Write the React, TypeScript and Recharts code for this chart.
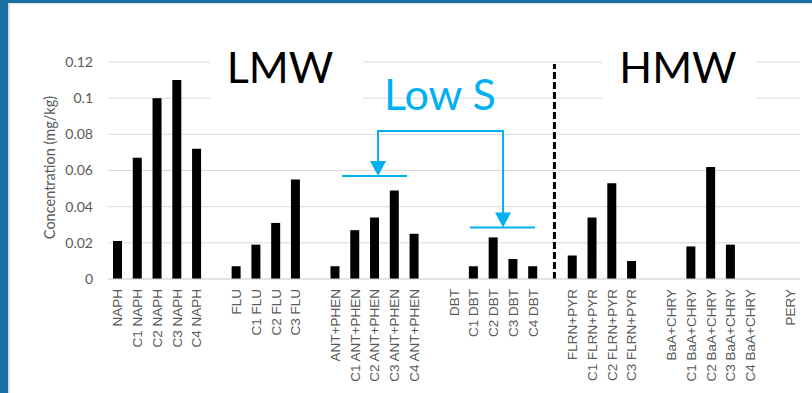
import { BarChart, Bar, XAxis, YAxis, CartesianGrid, ReferenceLine, ReferenceArea, ReferenceDot } from "recharts";

// categories on the x axis; "" marks the spacer slot between compound groups
const CATEGORIES = [
  "NAPH", "C1 NAPH", "C2 NAPH", "C3 NAPH", "C4 NAPH", "",
  "FLU", "C1 FLU", "C2 FLU", "C3 FLU", "",
  "ANT+PHEN", "C1 ANT+PHEN", "C2 ANT+PHEN", "C3 ANT+PHEN", "C4 ANT+PHEN", "",
  "DBT", "C1 DBT", "C2 DBT", "C3 DBT", "C4 DBT", "",
  "FLRN+PYR", "C1 FLRN+PYR", "C2 FLRN+PYR", "C3 FLRN+PYR", "",
  "BaA+CHRY", "C1 BaA+CHRY", "C2 BaA+CHRY", "C3 BaA+CHRY", "C4 BaA+CHRY", "",
  "PERY",
];

// mg/kg, null for spacer slots
const CONCENTRATION = [
  0.021, 0.067, 0.1, 0.11, 0.072, null,
  0.007, 0.019, 0.031, 0.055, null,
  0.007, 0.027, 0.034, 0.049, 0.025, null,
  0, 0.007, 0.023, 0.011, 0.007, null,
  0.013, 0.034, 0.053, 0.01, null,
  0, 0.018, 0.062, 0.019, 0, null,
  0,
];

const Y_TICKS = [0, 0.02, 0.04, 0.06, 0.08, 0.1, 0.12];

const data = CATEGORIES.map((name, slot) => ({ slot, name, value: CONCENTRATION[slot] }));
const SLOTS = data.map((d) => d.slot);

// annotation anchors in slot units (slot i is centred on i)
const LOW_S = { top: 0.0818, leftX: 13.16, leftTip: 0.057, rightX: 19.48, rightTip: 0.0285 };
const LOW_S_BARS = [
  { from: 11.34, to: 14.62, y: 0.057 },
  { from: 17.81, to: 21.1, y: 0.0285 },
];
const DIVIDER_X = 22.08;
const TITLES = [
  { text: "LMW", x: 8.2, y: 0.1084, boxFrom: 4.66, boxTo: 12.4 },
  { text: "HMW", x: 28.33, y: 0.1084, boxFrom: 24.49, boxTo: 32.28 },
];
const LOW_S_TITLE = { text: "Low S", x: 16.29, y: 0.0935 };

const BLUE = "#00B0F0";
const GREY_TEXT = "#595959";

const SlotTick = ({ x, y, payload }: any) => (
  <text
    x={x}
    y={y + 2}
    transform={`rotate(-90 ${x} ${y + 2})`}
    textAnchor="end"
    dominantBaseline="central"
    fontFamily="'Liberation Sans', Arial, sans-serif"
    fontSize={13.5}
    fill={GREY_TEXT}
  >
    {CATEGORIES[payload.value]}
  </text>
);

const ArrowDown = (p: any) => {
  const { x1, y1, x2, y2 } = p;
  const head = 15;
  const half = 8;
  return (
    <g>
      <line x1={x1} y1={y1} x2={x2} y2={y2 - head + 1} stroke={BLUE} strokeWidth={2} />
      <polygon points={`${x2 - half},${y2 - head} ${x2 + half},${y2 - head} ${x2},${y2}`} fill={BLUE} />
    </g>
  );
};

const bigText = (text: string, color: string) => (props: any) => {
  const vb = props.viewBox;
  return (
    <text
      x={vb.x + vb.width / 2}
      y={vb.y + vb.height / 2}
      textAnchor="middle"
      fontFamily="Lato, 'Open Sans', sans-serif"
      fontSize={43}
      fill={color}
    >
      {text}
    </text>
  );
};

const yTitle = (props: any) => {
  const vb = props.viewBox;
  const cx = vb.x + 49;
  const cy = vb.y + vb.height / 2 - 3;
  return (
    <text
      x={cx}
      y={cy}
      transform={`rotate(-90 ${cx} ${cy})`}
      textAnchor="middle"
      dominantBaseline="central"
      fontFamily="Lato, sans-serif"
      fontSize={14.5}
      fill={GREY_TEXT}
    >
      Concentration (mg/kg)
    </text>
  );
};

export default function App() {
  return (
    <div style={{ position: "fixed", left: 0, top: 0, width: 812, height: 393, background: "#1a6fa3", overflow: "hidden" }}>
      <div
        style={{
          position: "absolute",
          left: 8,
          top: 3,
          right: 0,
          bottom: 0,
          background: "#ffffff",
          borderLeft: "2px solid #dcdcdc",
          borderTop: "1px solid #e2e2e2",
        }}
      />
      <div style={{ position: "absolute", left: 0, top: 0 }}>
        <BarChart width={812} height={393} data={data} margin={{ top: 62, right: 12, bottom: 0, left: 0 }}>
          <CartesianGrid vertical={false} stroke="#d9d9d9" />
          <XAxis
            dataKey="slot"
            type="number"
            domain={[-0.5, CATEGORIES.length - 0.5]}
            allowDataOverflow
            ticks={SLOTS}
            interval={0}
            height={114}
            tickLine={false}
            axisLine={{ stroke: "#d9d9d9" }}
            tick={<SlotTick />}
          />
          <YAxis
            width={108}
            domain={[0, 0.12]}
            ticks={Y_TICKS}
            tickFormatter={(v: number) => String(v)}
            axisLine={false}
            tickLine={false}
            tickMargin={9}
            tick={{ fill: GREY_TEXT, fontSize: 14, fontFamily: "Lato, sans-serif" }}
            label={{ content: yTitle }}
          />
          <Bar dataKey="value" fill="#000000" barSize={9} isAnimationActive={false} />

          {TITLES.map((t) => (
            <ReferenceArea
              key={`box-${t.text}`}
              x1={t.boxFrom}
              x2={t.boxTo}
              y1={0.09}
              y2={0.125}
              fill="#ffffff"
              fillOpacity={1}
              stroke="none"
              ifOverflow="visible"
            />
          ))}

          <ReferenceLine
            segment={[{ x: DIVIDER_X, y: 0 }, { x: DIVIDER_X, y: 0.1189 }]}
            stroke="#000000"
            strokeWidth={3}
            strokeDasharray="7 3"
          />

          <ReferenceLine
            segment={[{ x: LOW_S.leftX, y: LOW_S.top }, { x: LOW_S.rightX, y: LOW_S.top }]}
            stroke={BLUE}
            strokeWidth={2}
            strokeLinecap="square"
          />
          <ReferenceLine
            segment={[{ x: LOW_S.leftX, y: LOW_S.top }, { x: LOW_S.leftX, y: LOW_S.leftTip }]}
            shape={ArrowDown}
          />
          <ReferenceLine
            segment={[{ x: LOW_S.rightX, y: LOW_S.top }, { x: LOW_S.rightX, y: LOW_S.rightTip }]}
            shape={ArrowDown}
          />
          {LOW_S_BARS.map((b) => (
            <ReferenceLine
              key={`bar-${b.from}`}
              segment={[{ x: b.from, y: b.y }, { x: b.to, y: b.y }]}
              stroke={BLUE}
              strokeWidth={2}
            />
          ))}

          {TITLES.map((t) => (
            <ReferenceDot
              key={`title-${t.text}`}
              x={t.x}
              y={t.y}
              r={0}
              fill="none"
              stroke="none"
              label={{ content: bigText(t.text, "#000000") }}
            />
          ))}
          <ReferenceDot
            x={LOW_S_TITLE.x}
            y={LOW_S_TITLE.y}
            r={0}
            fill="none"
            stroke="none"
            label={{ content: bigText(LOW_S_TITLE.text, BLUE) }}
          />
        </BarChart>
      </div>
    </div>
  );
}
